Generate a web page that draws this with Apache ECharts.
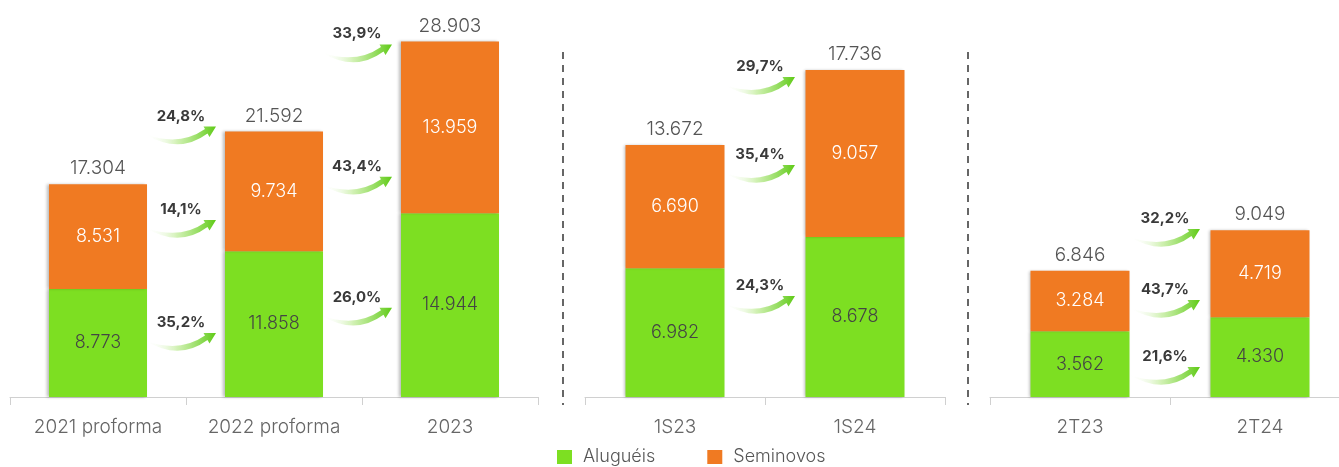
<!DOCTYPE html>
<html lang="pt">
<head>
    <meta charset="UTF-8">
    <title>Receita Líquida</title>
    <script src="https://cdn.jsdelivr.net/npm/echarts@6/dist/echarts.min.js"></script>
    <style>
        html, body { margin: 0; padding: 0; background: #fff; }
        #chart { width: 1339px; height: 467px; }
    </style>
</head>
<body>
<div id="chart"></div>
<script>
    // dados anuais
    var cats1 = ['2021 proforma', '2022 proforma', '2023'];
    var alug1 = [8773, 11858, 14944];
    var semi1 = [8531, 9734, 13959];
    var total1 = [17304, 21592, 28903];
    // semestres
    var cats2 = ['1S23', '1S24'];
    var alug2 = [6982, 8678];
    var semi2 = [6690, 9057];
    var total2 = [13672, 17736];
    // trimestres
    var cats3 = ['2T23', '2T24'];
    var alug3 = [3562, 4330];
    var semi3 = [3284, 4719];
    var total3 = [6846, 9049];

    // crescimento: texto e nível (no eixo de valores) onde fica a seta
    var growth1 = ['24,8%', '14,1%', '35,2%', '33,9%', '43,4%', '26,0%'];
    var growthAt1 = [21990, 14400, 5200, 28660, 17900, 7250];
    var growthFrom1 = [0, 0, 0, 1, 1, 1];
    var growth2 = ['29,7%', '35,4%', '24,3%'];
    var growthAt2 = [17350, 12580, 5480];
    var growth3 = ['32,2%', '43,7%', '21,6%'];
    var growthAt3 = [9110, 5260, 1630];

    var GREEN = '#7ddf22', ORANGE = '#f07a22';
    var FONT = 'Inter, "Noto Sans", sans-serif';

    var chart = echarts.init(document.getElementById('chart'));

    function fmt(v) { // 17304 -> 17.304
        return String(v).replace(/\B(?=(\d{3})+(?!\d))/g, '.');
    }

    // seta curva com degradê + rótulo do crescimento
    function renderArrow(params, api) {
        var p = api.coord([api.value(0), api.value(1)]);
        var band = api.size([1, 0])[0];
        var tx = p[0] + band / 2 + 30, ty = p[1];
        var pt = function (dx, dy) { return (tx + dx) + ' ' + (ty + dy); };
        var d = 'M' + pt(-70, 8) + ' Q' + pt(-36, 20) + ' ' + pt(-11, 2.5) +
            ' L' + pt(-12.5, 0) + ' L' + pt(0, 0) + ' L' + pt(-6.5, 10.5) +
            ' L' + pt(-8.5, 7) + ' Q' + pt(-37, 28) + ' ' + pt(-70, 8) + ' Z';
        return {
            type: 'group',
            children: [{
                type: 'path',
                shape: { pathData: d },
                style: {
                    fill: {
                        type: 'linear', x: 0, y: 0, x2: 1, y2: 0,
                        colorStops: [
                            { offset: 0, color: 'rgba(255,255,255,0)' },
                            { offset: 0.45, color: 'rgba(200,238,165,0.85)' },
                            { offset: 1, color: '#5fcb16' }
                        ]
                    }
                }
            }, {
                type: 'text',
                x: tx - 35,
                y: ty - 3,
                style: {
                    text: api.value(2),
                    fill: '#3a3a3a',
                    font: 'bold 15px ' + FONT,
                    align: 'center',
                    verticalAlign: 'bottom'
                }
            }]
        };
    }

    function arrowData(from, at, txt) {
        return txt.map(function (t, i) { return [from[i], at[i], t]; });
    }

    var groups = [
        { cats: cats1, alug: alug1, semi: semi1, total: total1, max: 30650, left: 10, width: 528, bw: 98,
            arrows: arrowData(growthFrom1, growthAt1, growth1) },
        { cats: cats2, alug: alug2, semi: semi2, total: total2, max: 20448, left: 585, width: 360, bw: 99,
            arrows: arrowData([0, 0, 0], growthAt2, growth2) },
        { cats: cats3, alug: alug3, semi: semi3, total: total3, max: 20448, left: 990, width: 360, bw: 99,
            arrows: arrowData([0, 0, 0], growthAt3, growth3) }
    ];

    var grid = [], xAxis = [], yAxis = [], series = [];
    groups.forEach(function (g, i) {
        grid.push({ left: g.left, width: g.width, top: 20, bottom: 70, outerBoundsMode: 'none', containLabel: false });
        xAxis.push({
            type: 'category', gridIndex: i, data: g.cats,
            axisLine: { lineStyle: { color: '#d0d0d0' } },
            axisTick: { show: true, length: 8, lineStyle: { color: '#d0d0d0' } },
            axisLabel: { color: '#666', fontSize: 19, fontWeight: 300, fontFamily: FONT, margin: 21 }
        });
        yAxis.push({ type: 'value', gridIndex: i, min: 0, max: g.max, show: false, splitLine: { show: false } });
        var shadow = { shadowColor: 'rgba(0,0,0,0.28)', shadowBlur: 3, shadowOffsetX: -2 };
        series.push({
            name: 'Aluguéis', type: 'bar', stack: 's' + i, xAxisIndex: i, yAxisIndex: i,
            barWidth: g.bw, data: g.alug,
            itemStyle: Object.assign({ color: GREEN }, shadow),
            label: { show: true, position: 'inside', color: '#444', fontSize: 18, fontWeight: 300, fontFamily: FONT,
                formatter: function (p) { return fmt(p.value); } }
        });
        series.push({
            name: 'Seminovos', type: 'bar', stack: 's' + i, xAxisIndex: i, yAxisIndex: i,
            barWidth: g.bw, data: g.semi,
            itemStyle: Object.assign({ color: ORANGE }, shadow),
            label: { show: true, position: 'inside', color: '#fff', fontSize: 18, fontWeight: 300, fontFamily: FONT,
                formatter: function (p) { return fmt(p.value); } }
        });
        series.push({
            name: 'Total', type: 'bar', xAxisIndex: i, yAxisIndex: i, barWidth: g.bw, barGap: '-100%',
            data: g.total, silent: true, z: 1,
            itemStyle: { color: 'rgba(0,0,0,0)' },
            label: { show: true, position: 'top', distance: 6, color: '#555', fontSize: 19, fontWeight: 300, fontFamily: FONT,
                formatter: function (p) { return fmt(p.value); } }
        });
        series.push({
            name: 'Crescimento', type: 'custom', xAxisIndex: i, yAxisIndex: i,
            data: g.arrows, renderItem: renderArrow, silent: true, z: 5, clip: false
        });
    });

    var option = {
        animation: false,
        textStyle: { fontFamily: FONT },
        legend: {
            data: ['Aluguéis', 'Seminovos'],
            bottom: 1, left: 557, padding: 0,
            icon: 'rect', itemWidth: 15, itemHeight: 14, itemGap: 52,
            textStyle: { color: '#555', fontSize: 18, fontWeight: 300, fontFamily: FONT, padding: [0, 0, 0, 6] }
        },
        grid: grid,
        xAxis: xAxis,
        yAxis: yAxis,
        series: series,
        graphic: [563, 968].map(function (x) {
            return {
                type: 'line', silent: true,
                shape: { x1: x, y1: 52, x2: x, y2: 405 },
                style: { stroke: '#666', lineWidth: 2, lineDash: [7, 6] }
            };
        })
    };
    chart.setOption(option);
    window.onresize = function () { chart.resize(); };
</script>
</body>
</html>
